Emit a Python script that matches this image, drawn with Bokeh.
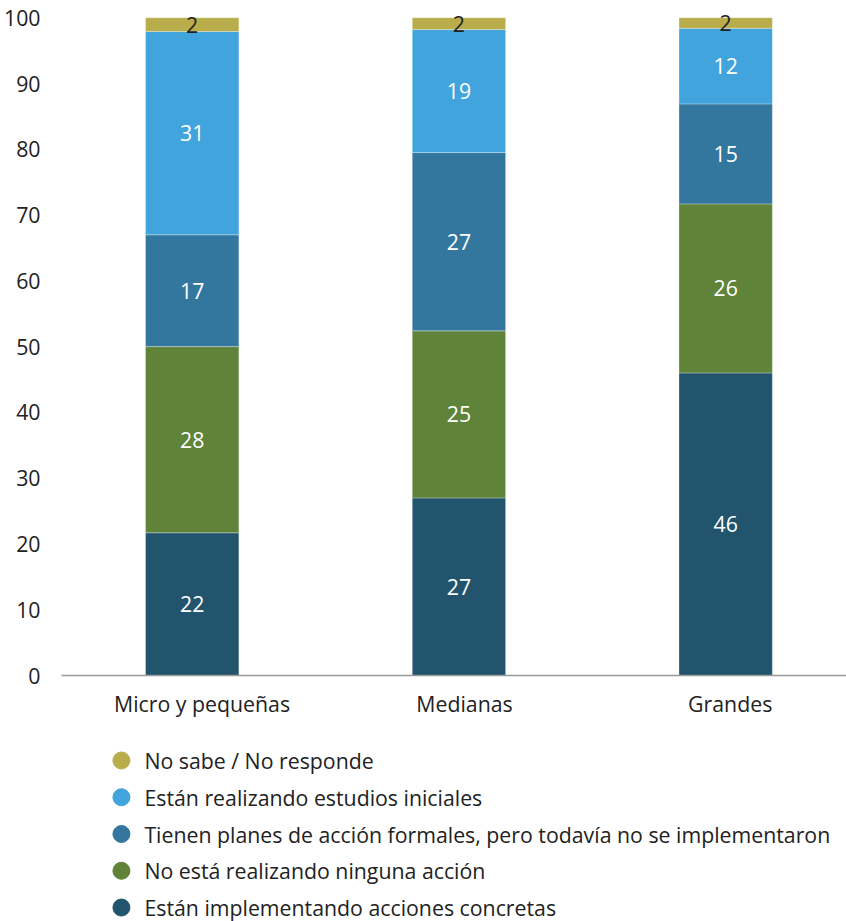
from bokeh.plotting import figure
from bokeh.models import ColumnDataSource, FixedTicker, Range1d, LabelSet
from bokeh.layouts import column
from bokeh.core.properties import value
from bokeh.embed import file_html
from bokeh.resources import INLINE

categories = ["Micro y pequeñas", "Medianas", "Grandes"]
series_names = [
    "Están implementando acciones concretas",
    "No está realizando ninguna acción",
    "Tienen planes de acción formales, pero todavía no se implementaron",
    "Están realizando estudios iniciales",
    "No sabe / No responde",
]
implementando = [21.7, 27.0, 46.0]
ninguna = [28.3, 25.4, 25.7]
planes = [17.0, 27.1, 15.2]
estudios = [30.9, 18.7, 11.5]
no_sabe = [2.1, 1.8, 1.6]

implementando_lbl = ["22", "27", "46"]
ninguna_lbl = ["28", "25", "26"]
planes_lbl = ["17", "27", "15"]
estudios_lbl = ["31", "19", "12"]
no_sabe_lbl = ["2", "2", "2"]

y_ticks = [0, 10, 20, 30, 40, 50, 60, 70, 80, 90, 100]

colors = ["#23546D", "#5E8339", "#34779E", "#41A4DC", "#B9AC4B"]
label_colors = ["white", "white", "white", "white", "#222222"]
keys = ["impl", "ning", "plan", "estu", "nosa"]
series = [implementando, ninguna, planes, estudios, no_sabe]
series_lbl = [implementando_lbl, ninguna_lbl, planes_lbl, estudios_lbl, no_sabe_lbl]

FONT = "Open Sans"
FS = "21.3px"
TXT = "#222222"

xs = list(range(len(categories)))
data = {"x": xs}
for k, s in zip(keys, series):
    data[k] = s
source = ColumnDataSource(data)

p = figure(width=846, height=727, output_backend="svg", toolbar_location=None,
           x_range=Range1d(-0.490, 2.453), y_range=Range1d(0, 101.1),
           min_border_left=60, min_border_right=0, min_border_top=10,
           min_border_bottom=52)
p.outline_line_color = None
p.xgrid.visible = False
p.ygrid.visible = False

p.vbar_stack(keys, x="x", width=0.35, color=colors, source=source,
             line_color="white", line_width=0.6, line_alpha=0.5)

bottoms = [0.0] * len(categories)
for s, lbls, lc in zip(series, series_lbl, label_colors):
    mids = [b + v / 2 for b, v in zip(bottoms, s)]
    bottoms = [b + v for b, v in zip(bottoms, s)]
    ls = ColumnDataSource(dict(x=xs, y=mids, t=lbls))
    p.add_layout(LabelSet(x="x", y="y", text="t", source=ls, text_align="center",
                          text_baseline="middle", text_color=value(lc),
                          text_font=value(FONT), text_font_size=value(FS)))

# category labels sit slightly right of the bar centres in the original
label_shift = [0.037, 0.021, 0.017]
tick_pos = [x + d for x, d in zip(xs, label_shift)]
p.xaxis.ticker = FixedTicker(ticks=tick_pos)
p.xaxis.major_label_overrides = {t: c for t, c in zip(tick_pos, categories)}
p.xaxis.major_tick_line_color = None
p.xaxis.minor_tick_line_color = None
p.xaxis.axis_line_color = "#9a9a9a"
p.xaxis.axis_line_width = 1.5
p.xaxis.major_label_text_font = FONT
p.xaxis.major_label_text_font_size = FS
p.xaxis.major_label_text_color = TXT
p.xaxis.major_label_standoff = 7

p.yaxis.ticker = FixedTicker(ticks=y_ticks)
p.yaxis.major_tick_line_color = None
p.yaxis.minor_tick_line_color = None
p.yaxis.axis_line_color = None
p.yaxis.major_label_text_font = FONT
p.yaxis.major_label_text_font_size = FS
p.yaxis.major_label_text_color = TXT
p.yaxis.major_label_standoff = 15

# legend panel drawn from the series lists (top row = last stacked series)
leg_names = list(reversed(series_names))
leg_colors = list(reversed(colors))
rows = list(range(len(leg_names)))
lsrc = ColumnDataSource(dict(row=rows, name=leg_names, color=leg_colors,
                             mx=[120] * len(rows), tx=[143] * len(rows)))

q = figure(width=846, height=194, output_backend="svg", toolbar_location=None,
           x_range=Range1d(60, 846), y_range=Range1d(4.38, -0.898),
           min_border_left=60, min_border_right=0, min_border_top=0,
           min_border_bottom=0, x_axis_type=None, y_axis_type=None)
q.outline_line_color = None
q.xgrid.visible = False
q.ygrid.visible = False
q.scatter(x="mx", y="row", marker="circle", size=17, fill_color="color",
          line_color="color", source=lsrc)
q.text(x="tx", y="row", text="name", source=lsrc, text_align="left",
       text_baseline="middle", text_color=TXT, text_font=value(FONT),
       text_font_size=value(FS))

layout = column(p, q, spacing=0)
open("out.html", "w").write(file_html(layout, INLINE))
